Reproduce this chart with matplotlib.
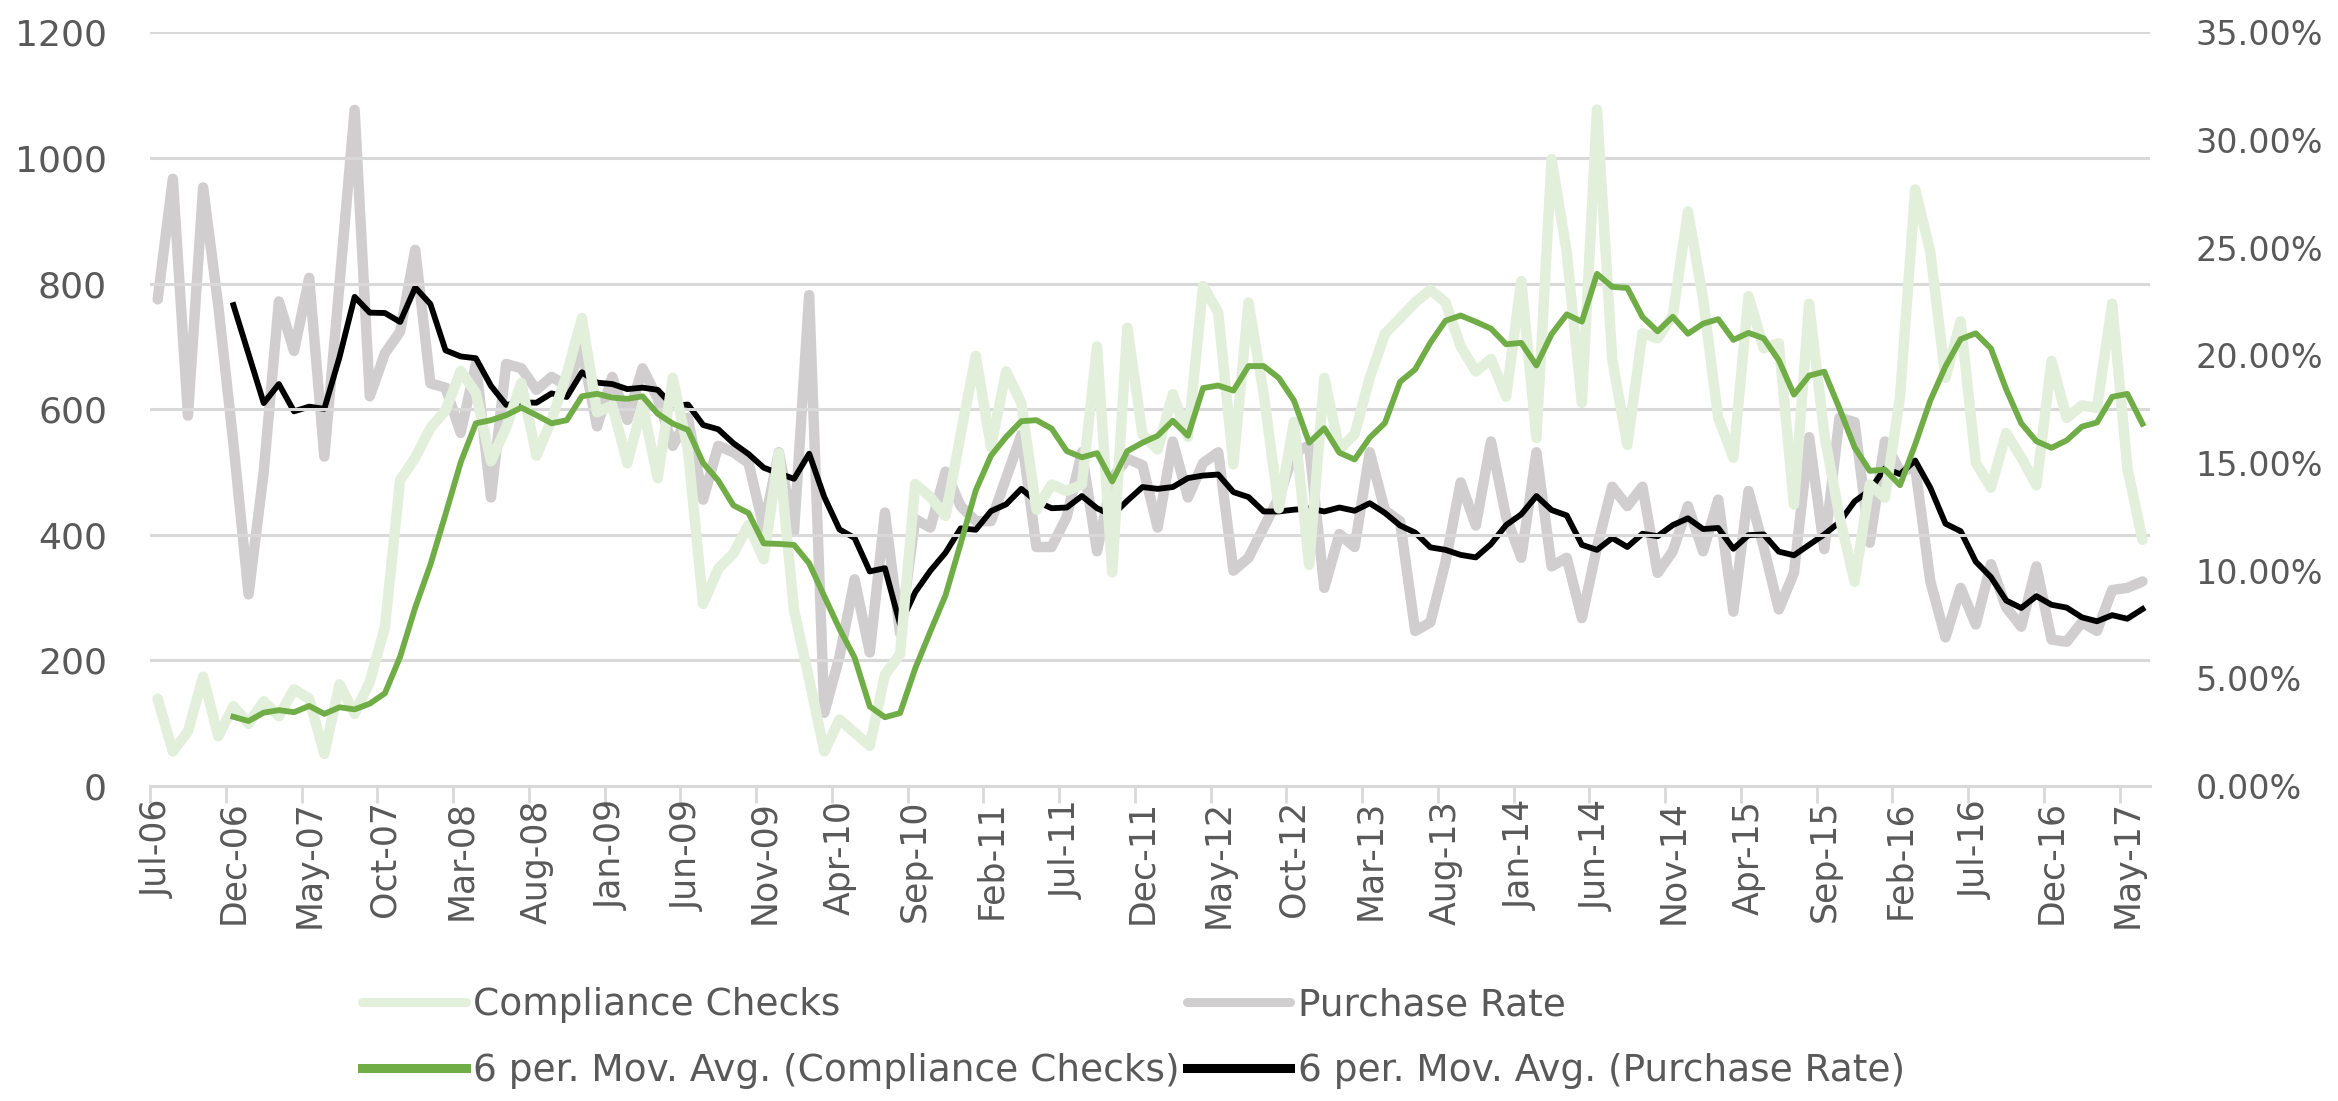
import numpy as np
import pandas as pd
import matplotlib
matplotlib.use("Agg")
import matplotlib.pyplot as plt
from matplotlib.ticker import FixedLocator, NullFormatter, FuncFormatter

# monthly categories, Jul-06 .. Jun-17
months = pd.date_range("2006-07-01", periods=132, freq="MS")
month_labels = [d.strftime("%b-%y") for d in months]

compliance_checks = [
    139, 55, 87, 174, 79, 127, 99, 135, 111, 154, 139, 51, 162, 115, 166, 253,
    487, 523, 570, 598, 661, 626, 517, 571, 642, 526, 583, 656, 745, 595, 606, 514,
    607, 490, 650, 535, 290, 346, 370, 416, 361, 530, 280, 170, 55, 106, 85, 64,
    177, 210, 481, 460, 430, 560, 685, 540, 660, 610, 440, 480, 470, 480, 700, 340,
    730, 560, 536, 624, 556, 796, 754, 512, 770, 624, 442, 580, 352, 650, 536, 560,
    650, 720, 745, 770, 790, 770, 700, 660, 680, 620, 804, 554, 998, 850, 610, 1077,
    680, 543, 721, 713, 749, 915, 776, 586, 523, 780, 697, 705, 448, 768, 560, 430,
    325, 480, 459, 620, 950, 850, 650, 740, 515, 475, 562, 523, 479, 677, 586, 606,
    602, 768, 507, 392,
]

# purchase rate in percent
purchase_rate = [
    22.6, 28.2, 17.2, 27.8, 22.3, 15.9, 8.9, 14.6, 22.5, 20.2, 23.6, 15.3, 23.3, 31.4, 18.1, 20.1,
    21.1, 24.9, 18.7, 18.5, 16.4, 19.6, 13.4, 19.6, 19.4, 18.4, 19.0, 18.6, 20.3, 16.7, 19.0, 17.0,
    19.4, 18.0, 15.8, 17.1, 13.3, 15.8, 15.5, 15.0, 12.0, 15.5, 11.8, 22.8, 3.4, 6.0, 9.6, 6.2,
    12.7, 7.1, 12.4, 12.0, 14.6, 13.0, 12.3, 12.3, 14.3, 16.3, 11.1, 11.1, 12.5, 15.5, 10.9, 14.3,
    15.2, 14.9, 12.0, 16.0, 13.4, 15.0, 15.5, 10.0, 10.6, 12.0, 13.4, 15.5, 15.8, 9.2, 11.7, 11.1,
    15.5, 12.8, 12.3, 7.2, 7.6, 10.4, 14.1, 12.1, 16.0, 12.5, 10.6, 15.5, 10.2, 10.6, 7.8, 11.1,
    13.9, 13.0, 13.9, 9.9, 10.9, 13.0, 10.9, 13.3, 8.1, 13.7, 11.1, 8.2, 9.9, 16.2, 11.0, 17.1,
    16.9, 11.3, 16.0, 14.6, 14.8, 9.5, 6.9, 9.2, 7.5, 10.3, 8.3, 7.4, 10.2, 6.8, 6.7, 7.6,
    7.2, 9.1, 9.2, 9.5,
]

df = pd.DataFrame({"cc": compliance_checks, "pr": purchase_rate})
cc_ma = df["cc"].rolling(6).mean()
pr_ma = df["pr"].rolling(6).mean()
x = np.arange(len(df))

label_color = "#595959"
grid_color = "#D9D9D9"

fig = plt.figure(figsize=(23.38, 11.01), dpi=100)
ax = fig.add_axes([0.0642, 0.2861, 0.8554, 0.6845])
ax2 = ax.twinx()

l1, = ax.plot(x, df["cc"], color="#E2EFDA", lw=7.5, solid_joinstyle="round", solid_capstyle="round", zorder=2)
l2, = ax2.plot(x, df["pr"], color="#D0CECE", lw=7.5, solid_joinstyle="round", solid_capstyle="round", zorder=2)
l3, = ax.plot(x, cc_ma, color="#70AD47", lw=4.2, zorder=3)
l4, = ax2.plot(x, pr_ma, color="#000000", lw=4.2, zorder=3)

# put primary axis (with MA green) on top of secondary
ax.set_zorder(ax2.get_zorder() + 1)
ax.patch.set_visible(False)

ax.set_xlim(-0.5, len(df) - 0.5)
ax.set_ylim(0, 1200)
ax2.set_ylim(0, 35)

ax.set_yticks(np.arange(0, 1201, 200))
ax2.set_yticks(np.arange(0, 35.1, 5))
ax2.yaxis.set_major_formatter(FuncFormatter(lambda v, p: f"{v:.2f}%"))

ax.grid(axis="y", color=grid_color, lw=2.2)
ax.set_axisbelow(True)

# category ticks at boundaries, labels on every 5th month
ax.xaxis.set_major_locator(FixedLocator(np.arange(-0.5, len(df) - 1, 5)))
ax.xaxis.set_major_formatter(NullFormatter())
ax.xaxis.set_minor_locator(FixedLocator(x[::5]))
ax.set_xticklabels([month_labels[i] for i in x[::5]], minor=True, rotation=90)
ax.tick_params(axis="x", which="major", length=12, width=2, color=grid_color)
ax.tick_params(axis="x", which="minor", length=0, pad=10, labelsize=25, labelcolor=label_color)
ax.tick_params(axis="y", length=0, pad=31, labelsize=26, labelcolor=label_color)
ax2.tick_params(axis="y", length=0, pad=33, labelsize=24, labelcolor=label_color)

for a in (ax, ax2):
    for s in ("top", "left", "right", "bottom"):
        a.spines[s].set_visible(False)
ax.spines["bottom"].set_visible(True)
ax.spines["bottom"].set_color(grid_color)
ax.spines["bottom"].set_linewidth(2.2)

leg = fig.legend(
    [l1, l3, l2, l4],
    ["Compliance Checks", "6 per. Mov. Avg. (Compliance Checks)",
     "Purchase Rate", "6 per. Mov. Avg. (Purchase Rate)"],
    ncol=2, loc="upper left", bbox_to_anchor=(0.1406, 0.134),
    frameon=False, handlelength=2.75, handletextpad=0.2, columnspacing=0.2,
    labelspacing=0.8, prop={"family": ["Liberation Sans Narrow", "DejaVu Sans"], "size": 27},
)
for t in leg.get_texts():
    t.set_color(label_color)
for h in leg.get_lines():
    h.set_linewidth(6.5)

fig.savefig("out.png", dpi=100)
